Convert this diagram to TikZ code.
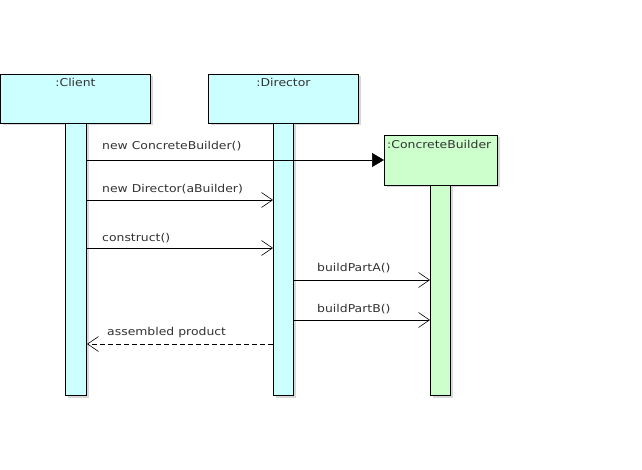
\documentclass[tikz,border=0pt]{standalone}
\usepackage{fontspec}
\setmainfont{DejaVu Sans}[FakeStretch=1.15]
\usetikzlibrary{arrows.meta,shadows}
\definecolor{lcyan}{HTML}{CCFFFF}
\definecolor{lgreen}{HTML}{CCFFCC}
\definecolor{txt}{HTML}{333333}
\begin{document}
\begin{tikzpicture}[x=1pt,y=-1pt,
  obj/.style={draw=black,line width=1pt,inner sep=0pt,anchor=north west,
    drop shadow={shadow xshift=2pt,shadow yshift=-2pt,fill=black!25,opacity=0.6}},
  life/.style={draw=black,line width=1pt,inner sep=0pt,anchor=north west,
    drop shadow={shadow xshift=2pt,shadow yshift=-2pt,fill=black!25,opacity=0.6}},
  lbl/.style={font=\fontsize{10.8}{12}\selectfont,text=txt,inner sep=0pt,anchor=base west},
  msg/.style={draw=black,line width=0.6pt},
  open/.style={-{Straight Barb[length=11pt,width=15pt,line width=0.6pt]}},
  filled/.style={-{Triangle[length=12pt,width=14pt]}}
]
\useasboundingbox[fill=white] (0,0) rectangle (642,470);
% object boxes
\node[obj,fill=lcyan,minimum width=150pt,minimum height=49pt] (cl) at (0,74) {};
\node[obj,fill=lcyan,minimum width=150pt,minimum height=49pt] (di) at (208,74) {};
\node[obj,fill=lgreen,minimum width=113pt,minimum height=50pt] (cb) at (384,135) {};
\node[lbl,anchor=base] (clt) at (cl.north |- 0,87) {:Client};
\node[lbl,anchor=base] (dit) at (di.north |- 0,87) {:Director};
\node[lbl,anchor=base west] (cbt) at (387,149) {:ConcreteBuilder};
% lifelines
\node[life,fill=lcyan,minimum width=21pt,minimum height=272pt] (cll) at (65,123) {};
\node[life,fill=lcyan,minimum width=20pt,minimum height=272pt] (dil) at (273,123) {};
\node[life,fill=lgreen,minimum width=20pt,minimum height=210pt] (cbl) at (430,185) {};
% messages
\coordinate (y1) at (0,160);
\coordinate (y2) at (0,200);
\coordinate (y3) at (0,248);
\coordinate (y4) at (0,280);
\coordinate (y5) at (0,320);
\coordinate (y6) at (0,344);
\draw[msg,filled] (cll.east |- y1) -- (cb.west |- y1);
\draw[msg,open] (cll.east |- y2) -- (dil.west |- y2);
\draw[msg,open] (cll.east |- y3) -- (dil.west |- y3);
\draw[msg,open] (dil.east |- y4) -- (cbl.west |- y4);
\draw[msg,open] (dil.east |- y5) -- (cbl.west |- y5);
\draw[msg,open,dashed,dash pattern=on 5pt off 3pt] (dil.west |- y6) -- (cll.east |- y6);
% labels
\node[lbl] (l1) at (102,150) {new ConcreteBuilder()};
\node[lbl] (l2) at (102,193) {new Director(aBuilder)};
\node[lbl] (l3) at (102,242) {construct()};
\node[lbl] (l4) at (317,272) {buildPartA()};
\node[lbl] (l5) at (317,312) {buildPartB()};
\node[lbl] (l6) at (107,335) {assembled product};
\end{tikzpicture}
\end{document}
